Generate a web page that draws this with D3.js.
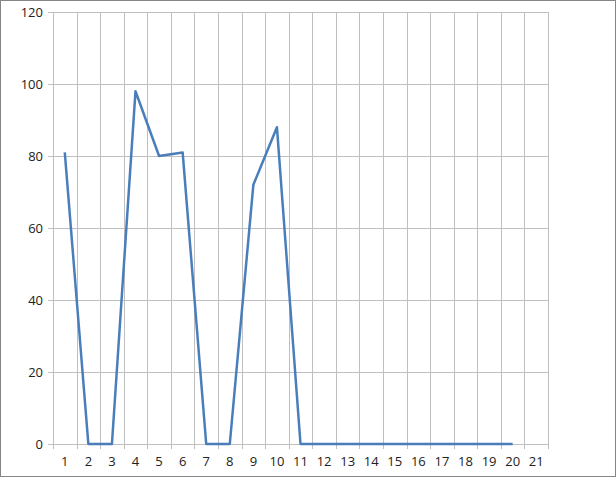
<!DOCTYPE html>
<html>
<head>
<meta charset="utf-8">
<script src="https://cdn.jsdelivr.net/npm/d3@7"></script>
<style>
  body { margin: 0; background: #fff; }
  text { font-family: "Open Sans", "Noto Sans", sans-serif; font-size: 13px; fill: #222; }
</style>
</head>
<body>
<svg id="chart" width="616" height="477"></svg>
<script>
// categories on the x axis (21 slots, last one empty)
const categories = d3.range(1, 22).map(String);
// values for categories 1..20
const values = [81, 0, 0, 98, 80, 81, 0, 0, 72, 88, 0, 0, 0, 0, 0, 0, 0, 0, 0, 0];
const yTicks = [0, 20, 40, 60, 80, 100, 120];

const margin = { top: 12, right: 68, bottom: 33, left: 53 };
const width = 616 - margin.left - margin.right,
    height = 477 - margin.top - margin.bottom;

const svg = d3.select('#chart');

// outer border
svg.append('rect')
    .attr('x', 0.5).attr('y', 0.5)
    .attr('width', 615).attr('height', 476)
    .attr('fill', 'none')
    .attr('stroke', '#868686');

const g = svg.append('g')
    .attr('transform', 'translate(' + margin.left + ',' + margin.top + ')');

const x = d3.scaleBand()
    .domain(categories)
    .range([0, width]);

const y = d3.scaleLinear()
    .domain([0, 120])
    .range([height, 0]);

// horizontal grid
g.append('g').selectAll('line')
    .data(yTicks)
    .enter().append('line')
    .attr('x1', -5).attr('x2', width)
    .attr('y1', d => Math.round(y(d)) + 0.5)
    .attr('y2', d => Math.round(y(d)) + 0.5)
    .attr('stroke', '#bfbfbf');

// vertical grid (between categories)
const edges = categories.map(c => x(c)).concat([width]);
g.append('g').selectAll('line')
    .data(edges)
    .enter().append('line')
    .attr('x1', d => Math.round(d) + 0.5).attr('x2', d => Math.round(d) + 0.5)
    .attr('y1', 0).attr('y2', height + 5)
    .attr('stroke', '#bfbfbf');

// y labels
g.append('g').selectAll('text')
    .data(yTicks)
    .enter().append('text')
    .attr('x', -10)
    .attr('y', d => y(d))
    .attr('dy', '0.35em')
    .attr('text-anchor', 'end')
    .text(d => d);

// x labels
g.append('g').selectAll('text')
    .data(categories)
    .enter().append('text')
    .attr('x', d => x(d) + x.bandwidth() / 2)
    .attr('y', height + 22)
    .attr('text-anchor', 'middle')
    .text(d => d);

// data line
const line = d3.line()
    .x((d, i) => x(categories[i]) + x.bandwidth() / 2)
    .y(d => y(d));

g.append('path')
    .datum(values)
    .attr('d', line)
    .attr('fill', 'none')
    .attr('stroke', '#4a7ebb')
    .attr('stroke-width', 2.5)
    .attr('stroke-linejoin', 'round');
</script>
</body>
</html>
